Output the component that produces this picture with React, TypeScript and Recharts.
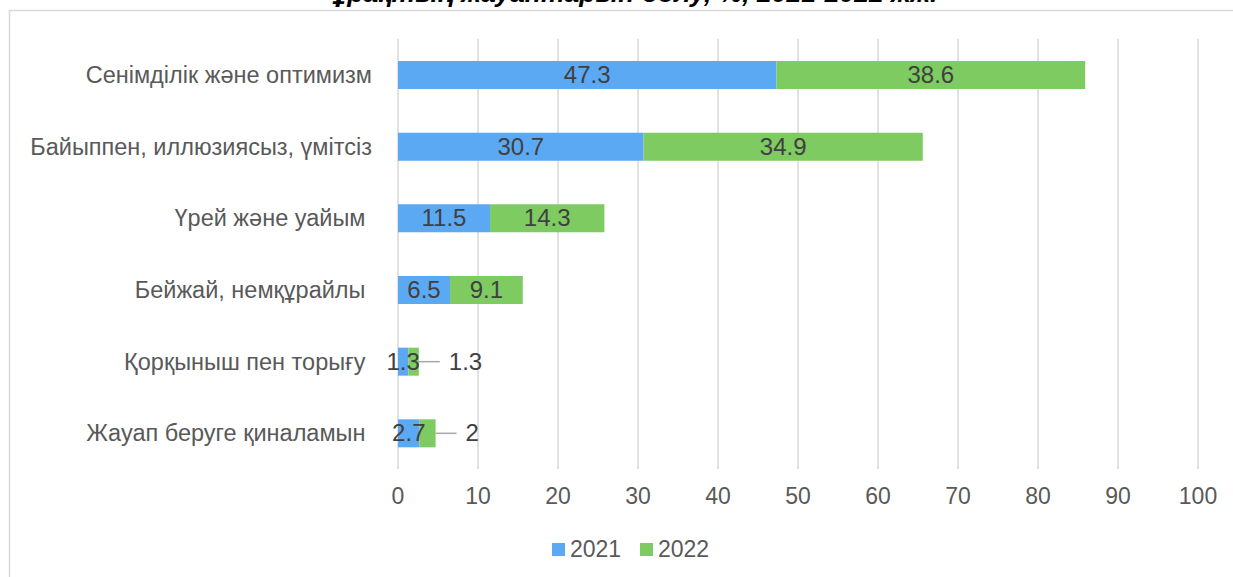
import React from 'react';
import { BarChart, Bar, XAxis, YAxis, CartesianGrid, LabelList, Customized } from 'recharts';

const categories = [
  'Сенімділік және оптимизм',
  'Байыппен, иллюзиясыз, үмітсіз',
  'Үрей және уайым ',
  'Бейжай, немқұрайлы ',
  'Қорқыныш пен торығу ',
  'Жауап беруге қиналамын ',
];
const values2021 = [47.3, 30.7, 11.5, 6.5, 1.3, 2.7];
const values2022 = [38.6, 34.9, 14.3, 9.1, 1.3, 2];
const xTicks = [0, 10, 20, 30, 40, 50, 60, 70, 80, 90, 100];
const seriesNames = ['2021', '2022'];
const titleText = 'ұрақтың жауаптарын бөлу, %, 2021-2022 жж.';

const data = categories.map((c, i) => ({ name: c, y2021: values2021[i], y2022: values2022[i] }));

const BLUE = '#5BA9F3';
const GREEN = '#7DCB61';
const TEXT = '#595959';
const LABEL = '#404040';
const FONT = 'Arial, "Liberation Sans", sans-serif';

const YTick = (props: any) => {
  const { x, y, payload } = props;
  return (
    <text x={x} y={y} dy={8} textAnchor="end" fill={TEXT} fontSize={23.5} fontFamily={FONT} style={{ whiteSpace: 'pre' }}>
      {payload.value}
    </text>
  );
};

const InsideLabel = (props: any) => {
  const { x, y, width, height, value } = props;
  return (
    <text x={x + width / 2} y={y + height / 2} dy={8} textAnchor="middle" fill={LABEL} fontSize={24} fontFamily={FONT}>
      {value}
    </text>
  );
};

const Label2022 = (props: any) => {
  const { x, y, width, height, value } = props;
  const cy = y + height / 2;
  if (value < 3) {
    const x0 = x + width;
    return (
      <g>
        <line x1={x0} y1={cy} x2={x0 + 21} y2={cy} stroke="#a6a6a6" strokeWidth={1.5} />
        <text x={x0 + 30} y={cy} dy={8} textAnchor="start" fill={LABEL} fontSize={24} fontFamily={FONT}>
          {value}
        </text>
      </g>
    );
  }
  return (
    <text x={x + width / 2} y={cy} dy={8} textAnchor="middle" fill={LABEL} fontSize={24} fontFamily={FONT}>
      {value}
    </text>
  );
};

const Extras = () => (
  <g>
    <rect x={9.5} y={10.5} width={1300} height={700} fill="none" stroke="#d9d9d9" strokeWidth={1.5} />
    <text x={635} y={2} textAnchor="middle" fontSize={26.5} fontWeight="bold" fontStyle="italic" fill="#000" fontFamily={FONT}>
      {titleText}
    </text>
    <g fontFamily={FONT} fontSize={23} fill={TEXT}>
      <rect x={552} y={543} width={13} height={13} fill={BLUE} />
      <text x={570} y={557}>{seriesNames[0]}</text>
      <rect x={640} y={543} width={13} height={13} fill={GREEN} />
      <text x={658} y={557}>{seriesNames[1]}</text>
    </g>
  </g>
);

export default function App() {
  return (
    <div style={{ position: 'absolute', left: 0, top: 0, background: '#fff' }}>
      <BarChart
        width={1233}
        height={577}
        data={data}
        layout="vertical"
        margin={{ top: 39, right: 35, bottom: 78, left: 0 }}
        barSize={28}
      >
        <CartesianGrid horizontal={false} stroke="#d9d9d9" strokeWidth={1.5} />
        <XAxis
          type="number"
          domain={[0, 100]}
          ticks={xTicks}
          axisLine={false}
          tickLine={false}
          height={30}
          tickMargin={13}
          tick={{ fill: TEXT, fontSize: 23, fontFamily: FONT }}
          interval={0}
        />
        <YAxis
          type="category"
          dataKey="name"
          width={398}
          axisLine={false}
          tickLine={false}
          tickMargin={20}
          tick={<YTick />}
          interval={0}
        />
        <Bar dataKey="y2021" stackId="a" fill={BLUE} isAnimationActive={false}>
          <LabelList dataKey="y2021" content={<InsideLabel />} />
        </Bar>
        <Bar dataKey="y2022" stackId="a" fill={GREEN} isAnimationActive={false}>
          <LabelList dataKey="y2022" content={<Label2022 />} />
        </Bar>
        <Customized component={Extras} />
      </BarChart>
    </div>
  );
}
